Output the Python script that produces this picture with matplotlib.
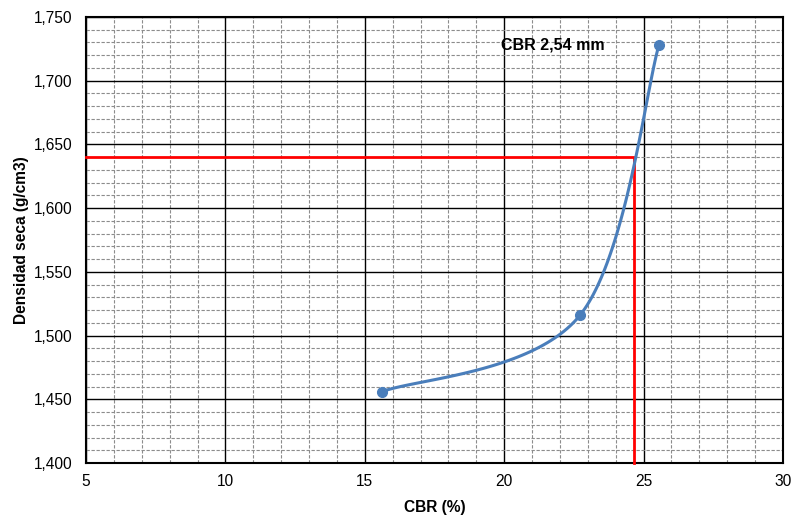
import matplotlib.pyplot as plt
import numpy as np
from matplotlib.ticker import MultipleLocator, FuncFormatter

plt.rcParams['font.family'] = ['Liberation Sans', 'DejaVu Sans']

# data
cbr = [15.62, 22.72, 25.55]
densidad = [1.456, 1.516, 1.728]
cbr_target = 24.66
dens_target = 1.640
xlim = (5, 30)
ylim = (1.400, 1.750)

fig = plt.figure(figsize=(7.91, 5.17), dpi=100)
ax = fig.add_axes([0.1087, 0.1044, 0.8812, 0.8627])
ax.set_xlim(*xlim)
ax.set_ylim(*ylim)

# smoothed line (Excel-style Bezier), built in normalised axis space
pts = np.column_stack([(np.array(cbr) - xlim[0]) / (xlim[1] - xlim[0]),
                       (np.array(densidad) - ylim[0]) / (ylim[1] - ylim[0])])
pts_ext = np.vstack([pts[0], pts, pts[-1]])
t = np.linspace(0, 1, 60)[:, None]
curve = []
for i in range(len(pts) - 1):
    p0, p1, p2, p3 = pts_ext[i], pts_ext[i + 1], pts_ext[i + 2], pts_ext[i + 3]
    c1 = p1 + (p2 - p0) / 6
    c2 = p2 - (p3 - p1) / 6
    seg = ((1 - t) ** 3) * p1 + 3 * ((1 - t) ** 2) * t * c1 + 3 * (1 - t) * t ** 2 * c2 + t ** 3 * p2
    curve.append(seg)
curve = np.vstack(curve)
ax.plot(curve[:, 0], curve[:, 1], color='#4A7EBB', lw=2.2, transform=ax.transAxes,
        zorder=4, solid_capstyle='round')
ax.plot(cbr, densidad, 'o', color='#4A7EBB', ms=7, zorder=5)

# red reading lines
ax.plot([xlim[0], cbr_target, cbr_target], [dens_target, dens_target, ylim[0]],
        color='#FF0000', lw=2, zorder=3, clip_on=False)

ax.text(19.9, 1.728, 'CBR 2,54 mm', fontsize=11.5, fontweight='bold', va='center', ha='left')

ax.xaxis.set_major_locator(MultipleLocator(5))
ax.xaxis.set_minor_locator(MultipleLocator(1))
ax.yaxis.set_major_locator(MultipleLocator(0.05))
ax.yaxis.set_minor_locator(MultipleLocator(0.01))
ax.yaxis.set_major_formatter(FuncFormatter(lambda v, p: f"{v:.3f}".replace('.', ',')))

ax.grid(which='major', color='black', lw=1, zorder=1)
ax.grid(which='minor', color='#8c8c8c', lw=0.8, ls=(0, (3, 1.5)), zorder=1)
ax.set_axisbelow(True)
ax.tick_params(which='both', length=0, labelsize=11.2)
ax.tick_params(axis='y', pad=10)
ax.tick_params(axis='x', pad=8)
for s in ax.spines.values():
    s.set_linewidth(1.5)

ax.set_xlabel('CBR (%)', fontsize=11.2, fontweight='bold', labelpad=8)
ax.set_ylabel('Densidad seca (g/cm3)', fontsize=11.2, fontweight='bold', labelpad=3)

fig.savefig('out.png', dpi=100)
